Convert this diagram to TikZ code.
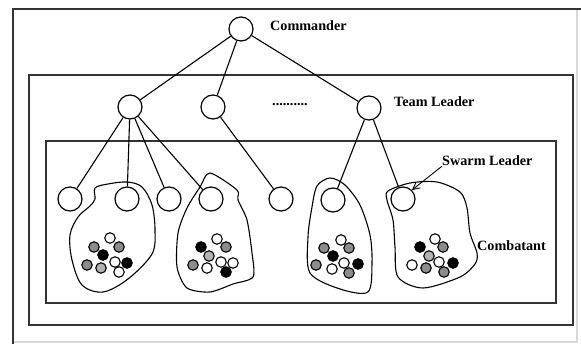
\documentclass[tikz,border=0pt]{standalone}
\usepackage{fontspec}
\setmainfont{Liberation Serif}
\usetikzlibrary{arrows.meta}
\tikzset{
  frame/.style={draw=black!80, line width=1.6pt},
  unit/.style={circle, draw, line width=1.2pt, minimum size=24pt, inner sep=0pt, fill=white},
  link/.style={line width=1.1pt},
  lbl/.style={anchor=west, inner sep=0pt, font=\fontsize{14.2}{16}\selectfont\bfseries},
  blob/.style={line width=1.1pt},
  wdot/.style={circle, draw, line width=1.1pt, fill=white, minimum size=10.5pt, inner sep=0pt},
  gdot/.style={wdot, fill=black!45},
  ldot/.style={wdot, fill=black!30},
  bdot/.style={wdot, fill=black},
}
\begin{document}
\begin{tikzpicture}[x=1pt, y=-1pt]
\useasboundingbox (0,0) rectangle (581,344);
% frames
\draw[black!15, line width=1.2pt] (577,9) -- (577,342) -- (13,342);
\draw[frame] (13,344) -- (13,9) -- (581,9);
\draw[frame] (29,75) rectangle (573,325);
\draw[frame] (46,141) rectangle (556,303);
% blobs
\draw[blob] plot[smooth cycle, tension=0.55] coordinates {(95,188) (108,184) (127,182) (142,187) (152,205) (155,230) (152,254) (128,279) (103,292) (82,285) (72,260) (70,235) (78,217) (90,206) (95,199)};
\draw[blob] plot[smooth cycle, tension=0.45] coordinates {(210,173) (237,190) (238,200) (247,220) (252,253) (253,277) (233,284) (210,292) (187,288) (177,267) (178,233) (187,208) (200,187)};
\draw[blob] plot[smooth cycle, tension=0.5] coordinates {(330,178) (345,185) (360,205) (370,235) (372,263) (368,292) (340,289) (310,273) (308,237) (312,207) (317,186)};
\draw[blob] plot[smooth cycle, tension=0.5] coordinates {(388,191) (410,183) (437,182) (460,192) (467,208) (470,233) (477,253) (475,264) (460,277) (423,288) (398,277) (395,247) (393,220) (387,200)};
% nodes
\node[unit] (cmd) at (241,29) {};
\node[unit] (t1) at (130,107) {};
\node[unit] (t2) at (213,107) {};
\node[unit] (t3) at (369,108) {};
\node[unit] (a) at (70,199) {};
\node[unit] (b) at (127,199) {};
\node[unit] (c) at (169,199) {};
\node[unit] (d) at (211,199) {};
\node[unit] (e) at (281,199) {};
\node[unit] (f) at (333,200) {};
\node[unit] (g) at (403,199) {};
% links
\draw[link] (cmd) -- (t1);
\draw[link] (cmd) -- (t2);
\draw[link] (cmd) -- (t3);
\draw[link] (t1) -- (a);
\draw[link] (t1) -- (b);
\draw[link] (t1) -- (c);
\draw[link] (t1) -- (d);
\draw[link] (t2) -- (e);
\draw[link] (t3) -- (f);
\draw[link] (t3) -- (g);
% labels
\node[lbl] (lc) at (270,26) {Commander};
\node[lbl] (lt) at (394,102) {Team Leader};
\node[lbl] (ls) at (442,161) {Swarm Leader};
\node[lbl] (lb) at (477,246) {Combatant};
\node[lbl] (dots) at (272,105) {\bfseries ..........};
\draw[link, line width=0.9pt, -{Straight Barb[length=7pt, width=7pt]}] (ls.south west) -- (g.north east);
% combatants blob 1
\node[wdot] (p1) at (110,238) {};
\node[gdot] (p2) at (94,247) {};
\node[gdot] (p3) at (119,247) {};
\node[bdot] (p4) at (103,255) {};
\node[gdot] (p5) at (87,265) {};
\node[ldot] (p6) at (101,268) {};
\node[wdot] (p7) at (115,262) {};
\node[bdot] (p8) at (127,263) {};
\node[wdot] (p9) at (119,272) {};
% blob 2
\node[wdot] (q1) at (217,239) {};
\node[bdot] (q2) at (201,247) {};
\node[gdot] (q3) at (226,247) {};
\node[ldot] (q4) at (209,256) {};
\node[gdot] (q5) at (193,265) {};
\node[wdot] (q6) at (207,268) {};
\node[wdot] (q7) at (221,262) {};
\node[wdot] (q8) at (233,263) {};
\node[bdot] (q9) at (226,272) {};
% blob 3
\node[wdot] (r1) at (341,240) {};
\node[gdot] (r2) at (324,248) {};
\node[gdot] (r3) at (349,248) {};
\node[bdot] (r4) at (333,256) {};
\node[gdot] (r5) at (316,265) {};
\node[wdot] (r6) at (332,269) {};
\node[wdot] (r7) at (344,263) {};
\node[bdot] (r8) at (358,264) {};
\node[gdot] (r9) at (349,273) {};
% blob 4
\node[wdot] (s1) at (435,239) {};
\node[bdot] (s2) at (420,247) {};
\node[gdot] (s3) at (443,247) {};
\node[ldot] (s4) at (429,256) {};
\node[wdot] (s5) at (412,265) {};
\node[gdot] (s6) at (426,268) {};
\node[wdot] (s7) at (439,262) {};
\node[bdot] (s8) at (453,263) {};
\node[gdot] (s9) at (444,272) {};
\end{tikzpicture}
\end{document}
